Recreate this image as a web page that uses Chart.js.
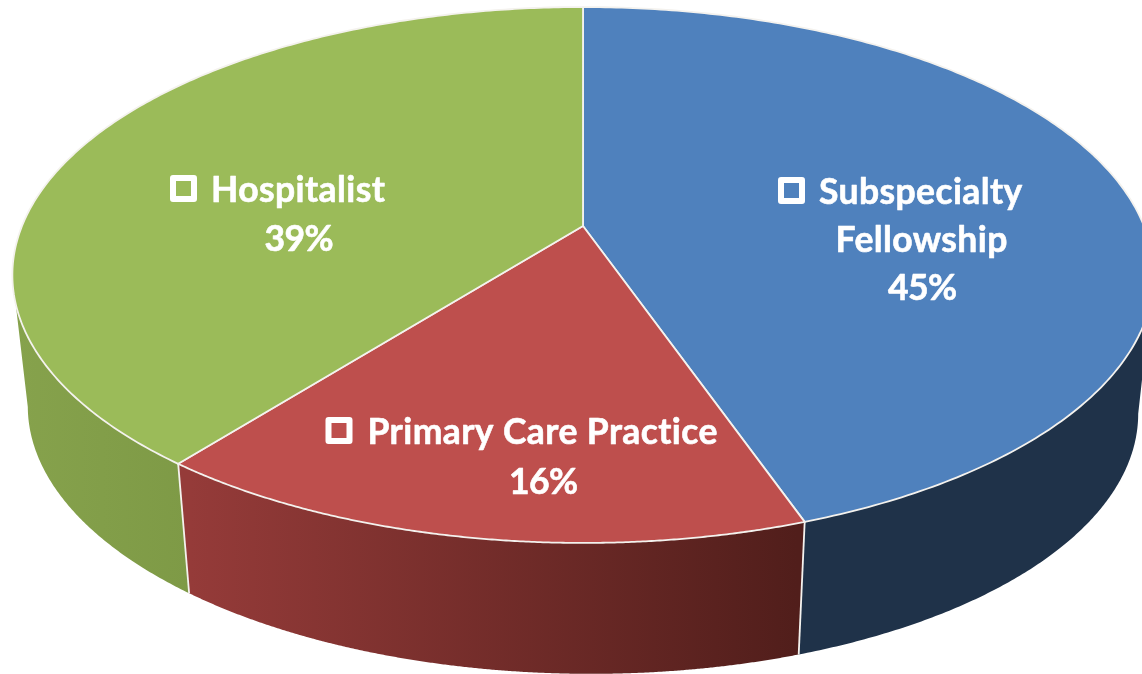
<!DOCTYPE html>
<html>
<head>
<meta charset="utf-8">
<style>html,body{margin:0;padding:0;background:#fff;overflow:hidden}canvas{display:block}</style>
<script src="https://cdn.jsdelivr.net/npm/chart.js@4/dist/chart.umd.min.js"></script>
</head>
<body>
<canvas id="c" width="1142" height="674"></canvas>
<script>
const categories = ["Subspecialty Fellowship", "Primary Care Practice", "Hospitalist"];
const shares = [44.7, 15.9, 39.4];
const topColors = ["#4F81BD", "#BE4F4D", "#9BBB59"];

// label lines per slice (last line is the rounded share)
const labelLines = [["Subspecialty", "Fellowship"], ["Primary Care Practice"], ["Hospitalist"]];

// Perspective view of the pie
const view = {cx: 583, cy: 226, rx: 561, ry: 259, p: -0.1828, sx: 0.973, sy: 0.985, dy: 139, tilt: 0.0065, horizon: 275};
const sideGrad = [
  [[190, "#1F3249"], [1140, "#1F3249"]],
  [[190, "#953B39"], [797, "#511E1B"]],
  [[15, "#86A24C"], [190, "#7E9A46"]]
];
const labelLayout = [
  {sq: [778, 177], lines: [[819, 204], [835.5, 252], [888, 300]]},
  {sq: [325.5, 417], lines: [[367.5, 444], [509, 494]]},
  {sq: [170, 175], lines: [[211, 202], [264.5, 251]]}
];

function project(a) {
  const t = a + Math.PI / 2, u = Math.sin(t), v = -Math.cos(t), w = 1 + view.p * v;
  return [view.cx + view.rx * u / w, view.cy + view.ry * v / w];
}
function lower(pt) {
  const x = pt[0] - view.cx;
  return [view.cx + x * view.sx, pt[1] * view.sy + view.dy + x * view.tilt];
}

const pie3d = {
  id: "pie3d",
  beforeDatasetsDraw(chart) {
    const ctx = chart.ctx, arcs = chart.getDatasetMeta(0).data;
    ctx.save();
    ctx.lineJoin = "round";
    // extruded sides (front-facing part only, one path per slice)
    arcs.forEach((el, i) => {
      const {startAngle: s, endAngle: e} = el.getProps(["startAngle", "endAngle"], true);
      const g = ctx.createLinearGradient(sideGrad[i][0][0], 0, sideGrad[i][1][0], 0);
      g.addColorStop(0, sideGrad[i][0][1]); g.addColorStop(1, sideGrad[i][1][1]);
      const n = 400, top = [];
      for (let k = 0; k <= n; k++) {
        const p = project(s + (e - s) * k / n);
        if (p[1] >= view.horizon) top.push(p);
      }
      ctx.beginPath();
      top.forEach((p, k) => k ? ctx.lineTo(p[0], p[1]) : ctx.moveTo(p[0], p[1]));
      top.slice().reverse().forEach(p => { const q = lower(p); ctx.lineTo(q[0], q[1]); });
      ctx.closePath();
      ctx.fillStyle = g; ctx.fill();
    });
    // side dividers
    ctx.strokeStyle = "#F4F2EE"; ctx.lineWidth = 1.8;
    arcs.forEach(el => {
      const {startAngle: s} = el.getProps(["startAngle"], true);
      const p = project(s), q = lower(p);
      if (p[1] > view.horizon) {
        ctx.beginPath(); ctx.moveTo(p[0], p[1]); ctx.lineTo(q[0], q[1]); ctx.stroke();
      }
    });
    // top faces
    arcs.forEach((el, i) => {
      const {startAngle: s, endAngle: e} = el.getProps(["startAngle", "endAngle"], true);
      ctx.beginPath();
      ctx.moveTo(view.cx, view.cy);
      const n = 240;
      for (let k = 0; k <= n; k++) {
        const p = project(s + (e - s) * k / n);
        ctx.lineTo(p[0], p[1]);
      }
      ctx.closePath();
      ctx.fillStyle = topColors[i]; ctx.fill();
      ctx.strokeStyle = "#F4F2EE"; ctx.lineWidth = 1.8; ctx.stroke();
    });
    ctx.restore();
    return false; // the faces above replace the flat circular arcs
  },
  afterDraw(chart) {
    const ctx = chart.ctx;
    ctx.save();
    ctx.fillStyle = "#fff";
    ctx.textAlign = "left";
    ctx.textBaseline = "alphabetic";
    ctx.font = "bold 35.5px Lato";
    shares.forEach((v, i) => {
      const L = labelLayout[i];
      const names = labelLines[i];
      const texts = names.concat([Math.round(v) + "%"]);
      ctx.strokeStyle = "#fff"; ctx.lineWidth = 0.6; ctx.lineJoin = "round";
      texts.forEach((t, j) => {
        ctx.letterSpacing = j < names.length ? "0.4px" : "-0.6px";
        ctx.fillText(t, L.lines[j][0], L.lines[j][1]);
        ctx.strokeText(t, L.lines[j][0], L.lines[j][1]);
      });
      ctx.lineWidth = 6;
      ctx.strokeRect(L.sq[0] + 3, L.sq[1] + 3, 21, 21);
    });
    ctx.restore();
  }
};

new Chart(document.getElementById("c"), {
  type: "pie",
  data: {labels: categories, datasets: [{data: shares, backgroundColor: topColors, borderWidth: 0}]},
  options: {
    responsive: false,
    animation: false,
    plugins: {legend: {display: false}, tooltip: {enabled: false}}
  },
  plugins: [pie3d]
});
</script>
</body>
</html>
